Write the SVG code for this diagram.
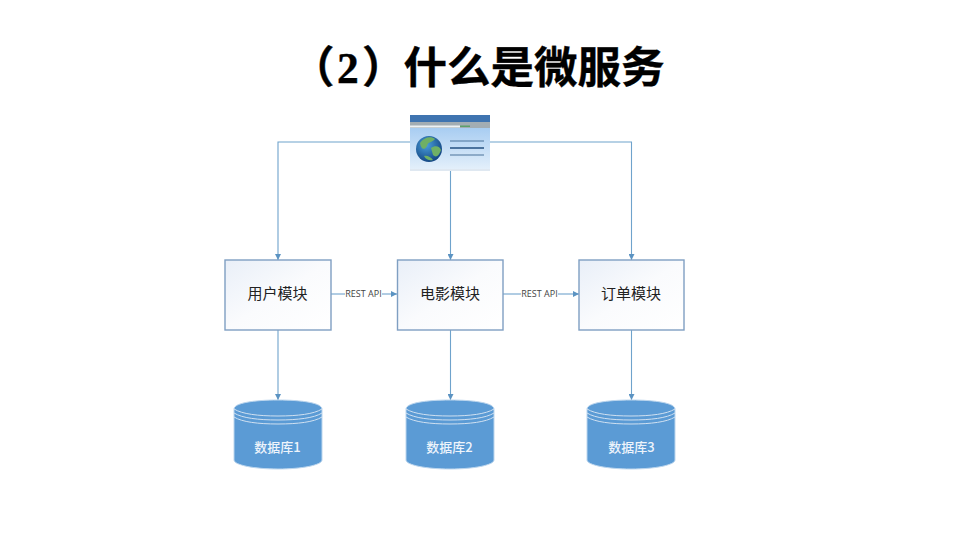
<svg xmlns="http://www.w3.org/2000/svg" width="960" height="540" viewBox="0 0 960 540">
<style>
.t{font-family:"Noto Sans CJK SC","Liberation Sans",sans-serif}
.title{font-size:43.500px;font-weight:700;fill:#000;stroke:#000;stroke-width:.4}
.num{font-family:"Liberation Serif",serif;font-weight:700}
.box{fill:url(#boxg);stroke:#7f9fc2;stroke-width:1.4}
.mod{font-size:15px;fill:#222;text-anchor:middle}
.db{font-size:13px;fill:#eef4fb;text-anchor:middle;font-weight:500}
.rest{font-family:"Open Sans","Liberation Sans",sans-serif;font-size:9px;fill:#444;text-anchor:middle}
.c{fill:none;stroke:#6fa3cc;stroke-width:1.1;marker-end:url(#ah)}
.cn{fill:none;stroke:#6fa3cc;stroke-width:1.1}
.body{fill:#5b9bd5;stroke:#bcd6ee;stroke-width:1}
.ring{fill:none;stroke:#cfe0f1;stroke-width:1}
</style>
<defs>
<linearGradient id="boxg" x1="0" y1="0" x2="1" y2="1"><stop offset="0" stop-color="#e9eff8"/><stop offset=".5" stop-color="#fafbfd"/><stop offset="1" stop-color="#fff"/></linearGradient>
<linearGradient id="win" x1="0" y1="0" x2="0" y2="1"><stop offset="0" stop-color="#95c2ef"/><stop offset="1" stop-color="#e6f1fb"/></linearGradient>
<radialGradient id="globe" cx=".4" cy=".35" r=".7"><stop offset="0" stop-color="#4a9fdc"/><stop offset="1" stop-color="#11427f"/></radialGradient>
<marker id="ah" viewBox="0 0 6 6" refX="6" refY="3" markerWidth="6" markerHeight="6" orient="auto" markerUnits="userSpaceOnUse"><path d="M0 0L6 3L0 6Z" fill="#5b93c2"/></marker>
<g id="cyl">
<path class="body" d="M0 9C0 3 20 0 44 0S88 3 88 9V60C88 65 68 69 44 69S0 65 0 60Z"/>
<path class="ring" d="M0 9C8 14 24 16 44 16S80 14 88 9M0 13C8 18 24 20 44 20S80 18 88 13M0 17C8 22 24 24 44 24S80 22 88 17"/>
</g>
</defs>
<rect width="960" height="540" fill="#fff"/>
<text class="t title" y="83"><tspan x="291">（</tspan><tspan class="num" x="337">2</tspan><tspan x="362">）</tspan><tspan x="403.500">什么是微服务</tspan></text>
<g id="connectors">
<path class="c" d="M410 142H278V260"/>
<path class="c" d="M490 142H631.500V260"/>
<path class="c" d="M450.500 171V260"/>
<path class="c" d="M278 330V400"/>
<path class="c" d="M450.500 330V400"/>
<path class="c" d="M631.500 330V400"/>
<path class="cn" d="M331 294H345"/>
<path class="c" d="M382 294H397"/>
<path class="cn" d="M503 294H521"/>
<path class="c" d="M558 294H579"/>
<text class="rest" x="363.500" y="297">REST API</text>
<text class="rest" x="539.500" y="297">REST API</text>
</g>
<g id="browser">
<rect x="410" y="115" width="80" height="56" fill="url(#win)"/>
<rect x="410" y="115" width="80" height="7" fill="#3f74b0"/>
<rect x="410" y="122" width="80" height="6" fill="#a3adb3"/>
<rect x="410" y="125.500" width="50" height="2" fill="#eef2f4"/>
<rect x="460" y="125.500" width="10" height="1.500" fill="#5ca06c"/>
<rect x="410" y="169" width="80" height="2" fill="#dfe8f1"/>
<circle cx="429" cy="149" r="13" fill="url(#globe)"/>
<path d="M420 143C424 137 431 136 435 139C432 143 428 141 427 146C424 151 421 149 420 143ZM431 148C435 145 440 146 441 150C439 156 436 158 433 155ZM424 156C427 155 431 157 433 160C430 161 426 160 424 156Z" fill="#6fb065"/>
<path d="M450 141H484M450 155H484" stroke="#4a7299" stroke-width="1.2"/>
<path d="M450 148H484" stroke="#234f80" stroke-width="1.6"/>
</g>
<g id="mod1"><rect class="box" x="225" y="260" width="106" height="70"/><text class="t mod" x="277.500" y="299">用户模块</text></g>
<g id="mod2"><rect class="box" x="397.500" y="260" width="105.500" height="70"/><text class="t mod" x="450" y="299">电影模块</text></g>
<g id="mod3"><rect class="box" x="579" y="260" width="105" height="70"/><text class="t mod" x="631" y="299">订单模块</text></g>
<g id="db1"><use href="#cyl" x="234" y="400"/><text class="t db" x="277.500" y="452">数据库1</text></g>
<g id="db2"><use href="#cyl" x="406" y="400"/><text class="t db" x="449.500" y="452">数据库2</text></g>
<g id="db3"><use href="#cyl" x="587" y="400"/><text class="t db" x="631.500" y="452">数据库3</text></g>
</svg>
